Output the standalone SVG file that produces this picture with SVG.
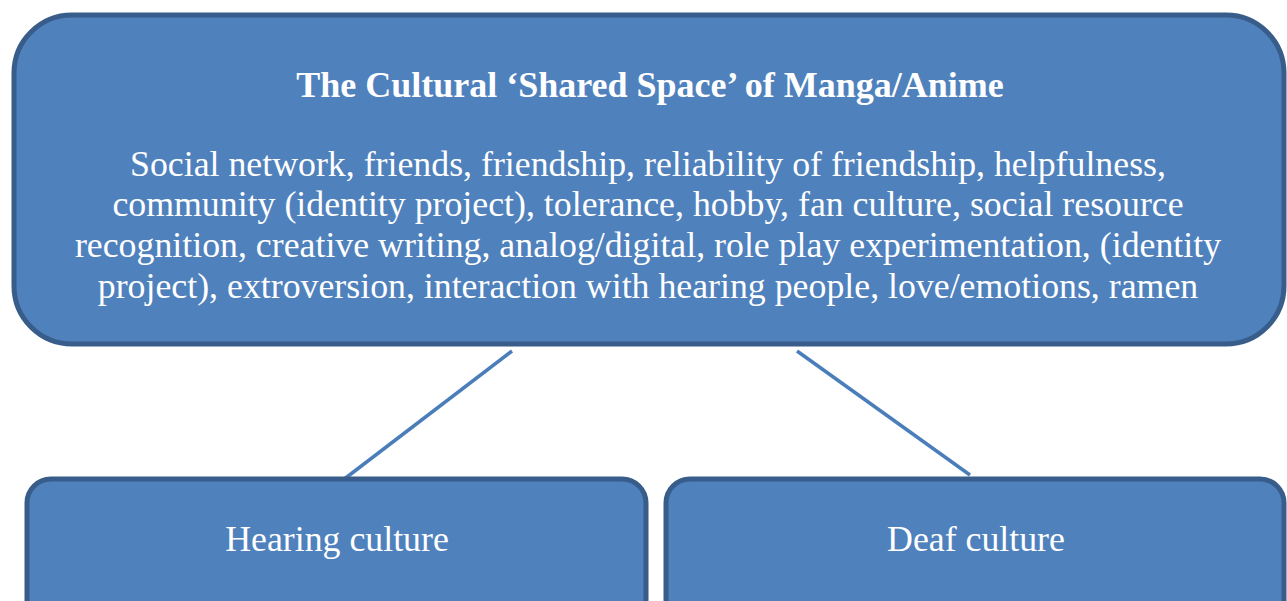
<svg xmlns="http://www.w3.org/2000/svg" width="1287" height="601" viewBox="0 0 1287 601">
  <style>
    .box { fill: #4f81bd; stroke: #385d8a; stroke-width: 5; }
    .txt { fill: #ffffff; font-family: "Liberation Serif", "Times New Roman", serif; text-anchor: middle; }
    .title { font-size: 36px; font-weight: bold; }
    .body { font-size: 35.8px; }
    .link { stroke: #4a7ebb; stroke-width: 3.5; fill: none; }
  </style>
  <rect width="1287" height="601" fill="#ffffff"/>

  <g id="connectors">
    <line class="link" x1="512" y1="351" x2="343" y2="480"/>
    <line class="link" x1="797" y1="351" x2="970" y2="475"/>
  </g>

  <g id="shared-space">
    <rect class="box" x="14" y="15" width="1270" height="329" rx="58" ry="58"/>
    <text class="txt title" x="650" y="97">The Cultural ‘Shared Space’ of Manga/Anime</text>
    <text class="txt body" x="648" y="176">Social network, friends, friendship, reliability of friendship, helpfulness,</text>
    <text class="txt body" x="648" y="216">community (identity project), tolerance, hobby, fan culture, social resource</text>
    <text class="txt body" x="648" y="257">recognition, creative writing, analog/digital, role play experimentation, (identity</text>
    <text class="txt body" x="648" y="298">project), extroversion, interaction with hearing people, love/emotions, ramen</text>
  </g>

  <g id="hearing-culture">
    <rect class="box" x="27" y="479" width="619" height="150" rx="24" ry="24"/>
    <text class="txt body" x="337" y="551">Hearing culture</text>
  </g>

  <g id="deaf-culture">
    <rect class="box" x="666" y="479" width="618" height="150" rx="24" ry="24"/>
    <text class="txt body" x="976" y="551">Deaf culture</text>
  </g>
</svg>
